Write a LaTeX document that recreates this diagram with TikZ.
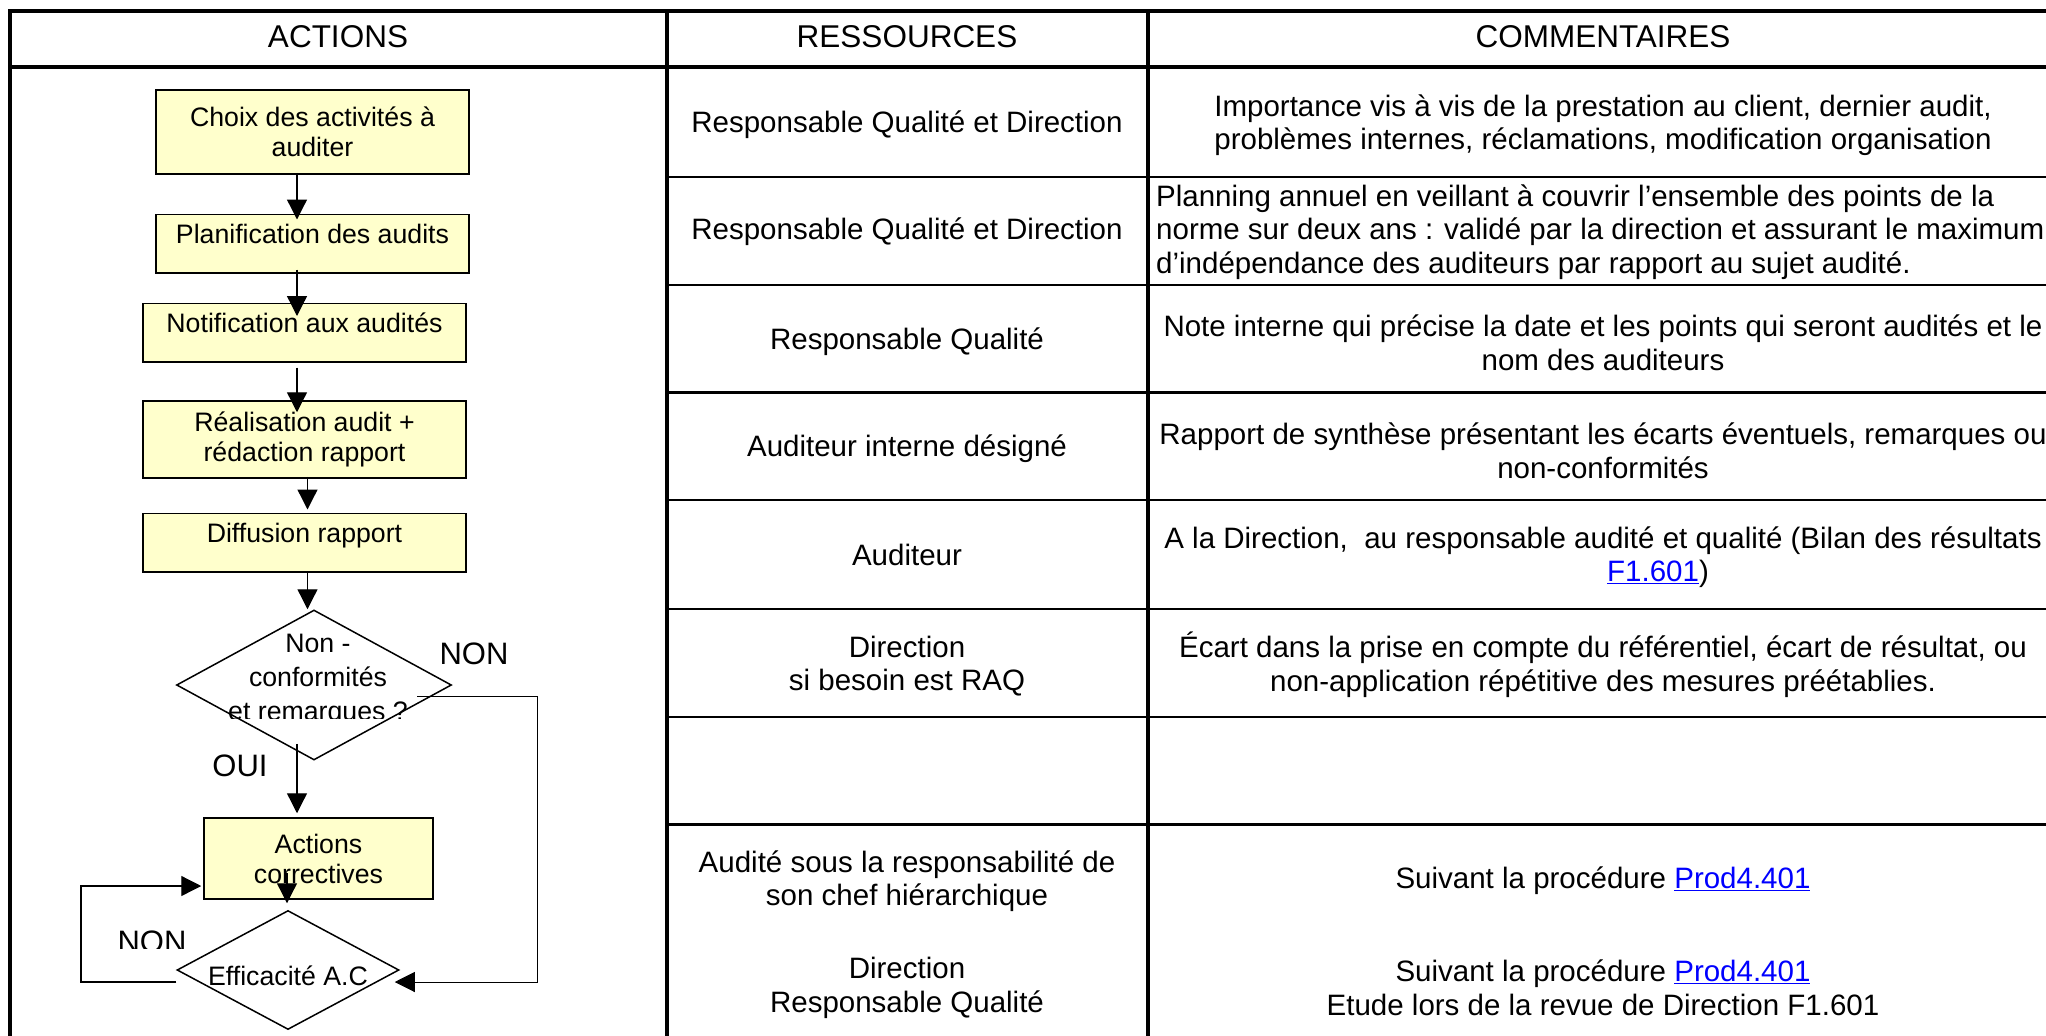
\documentclass[tikz,border=0pt]{standalone}
\usepackage{fontspec}
\setmainfont{Liberation Sans}
\usetikzlibrary{arrows.meta,shapes.geometric}

\definecolor{jaune}{RGB}{255,255,204}
\newcommand{\lien}[1]{\textcolor{blue}{\underline{#1}}}

\begin{document}
\begin{tikzpicture}[x=1pt, y=-1pt,
		etape/.style={draw, line width=1.5pt, fill=jaune, inner sep=0pt, align=center, font=\fontsize{26.7}{30}\selectfont},
		etapeun/.style={etape, text height=29pt, text depth=29.5pt},
		losange/.style={draw, diamond, line width=1.5pt, inner sep=0pt},
		texte/.style={inner sep=0pt, align=center, font=\fontsize{26.7}{34}\selectfont},
		fleche/.style={line width=1.3pt, -{Triangle[length=20pt, width=20pt]}},
		entete/.style={inner sep=0pt, font=\fontsize{31.5}{36}\selectfont},
		cellule/.style={inner sep=0pt, align=center, font=\fontsize{29.5}{33.5}\selectfont},
		etiquette/.style={inner sep=0pt, font=\fontsize{31}{34}\selectfont}]
		\useasboundingbox (0,0) rectangle (2046,1036);
		\fill[white] (0,0) rectangle (2046,1036);
		\clip (0,0) rectangle (2046,1036);
		
		%table frame
		\draw[line width=3.3pt] (10,1045) -- (10,11) -- (2058,11) -- (2058,1045);
		\draw[line width=3.3pt] (10,67) -- (2058,67);
		\foreach \x in {667, 1148}{
			\draw[line width=3.3pt] (\x,11) -- (\x,1045);
		}
		\foreach \y in {177, 285, 500, 609, 717}{
			\draw[line width=2pt] (667,\y) -- (2058,\y);
		}
		\foreach \y in {392, 824}{
			\draw[line width=3pt] (667,\y) -- (2058,\y);
		}
		
		%header
		\node[entete] (hact) at (338,37) {ACTIONS};
		\node[entete] (hres) at (907,37) {RESSOURCES};
		\node[entete] (hcom) at (1603,37) {COMMENTAIRES};
		
		%ressources
		\node[cellule] (res1) at (907,125) {Responsable Qualité et Direction};
		\node[cellule] (res2) at (907,232) {Responsable Qualité et Direction};
		\node[cellule] (res3) at (907,342) {Responsable Qualité};
		\node[cellule] (res4) at (907,449) {Auditeur interne désigné};
		\node[cellule] (res5) at (907,555) {Auditeur};
		\node[cellule] (res6) at (907,666) {Direction\\si besoin est RAQ};
		\node[cellule] (res7) at (907,881) {Audité sous la responsabilité de\\son chef hiérarchique};
		\node[cellule] (res8) at (907,988) {Direction\\Responsable Qualité};
		
		%commentaires
		\node[cellule] (com1) at (1603,125) {Importance vis à vis de la prestation au client, dernier audit,\\problèmes internes, réclamations, modification organisation};
		\node[cellule, align=left, anchor=west] (com2) at (1156,232) {Planning annuel en veillant à couvrir l’ensemble des points de la\\norme sur deux ans : validé par la direction et assurant le maximum\\d’indépendance des auditeurs par rapport au sujet audité.};
		\node[cellule] (com3) at (1603,343) {Note interne qui précise la date et les points qui seront audités et le\\nom des auditeurs};
		\node[cellule] (com4) at (1603,451) {Rapport de synthèse présentant les écarts éventuels, remarques ou\\non-conformités};
		\node[cellule] (com5) at (1603,557) {A la Direction,~ au responsable audité et qualité (Bilan des résultats\\\hspace*{110pt}\lien{F1.601})};
		\node[cellule] (com6) at (1603,665) {Écart dans la prise en compte du référentiel, écart de résultat, ou\\non-application répétitive des mesures préétablies.};
		\node[cellule] (com7) at (1603,881) {Suivant la procédure \lien{Prod4.401}};
		\node[cellule] (com8) at (1603,988) {Suivant la procédure \lien{Prod4.401}\\Etude lors de la revue de Direction F1.601};
		
		%flow chart
		\node[etape, minimum width=313pt, minimum height=84pt] (choix) at (312.5,132) {Choix des activités à\\auditer};
		\node[etapeun, minimum width=313pt] (planif) at (312.5,243.5) {Planification des audits};
		\node[etapeun, minimum width=323pt] (notif) at (304.5,332.5) {Notification aux audités};
		\node[etape, minimum width=323pt, minimum height=77pt] (realis) at (304.5,439.5) {Réalisation audit +\\rédaction rapport};
		\node[etapeun, minimum width=323pt] (diffus) at (304.5,542.5) {Diffusion rapport};
		\node[losange, minimum width=275pt, minimum height=150pt] (nc) at (314,685) {};
		\node[etape, minimum width=229pt, minimum height=81pt] (actions) at (318.5,858.5) {Actions\\correctives};
		\node[losange, minimum width=222pt, minimum height=119pt] (effic) at (288,970) {};
		
		\begin{scope}
			\clip (100,600) rectangle (560,718);
			\node[texte] (nctxt) at (318,680) {Non -\\conformités\\et remarques ?};
		\end{scope}
		\node[texte] (efftxt) at (288,976) {Efficacité A.C};
		
		\node[etiquette] (non1) at (474,654) {NON};
		\node[etiquette] (oui) at (240,766) {OUI};
		\begin{scope}
			\clip (100,900) rectangle (200,948);
			\node[etiquette] (non2) at (152,942) {NON};
		\end{scope}
		
		%arrows
		\coordinate (axeA) at (297,0);
		\coordinate (axeB) at (307.5,0);
		\coordinate (axeC) at (287,0);
		\coordinate (sortie) at (417,696);
		\coordinate (coude) at (537,982);
		\coordinate (gauche) at (81,886);
		
		\draw[fleche, shorten <=-2pt, shorten >=-6pt] (choix.south -| axeA) -- (planif.north -| axeA);
		\draw[fleche, shorten <=-4pt, shorten >=-13.5pt] (planif.south -| axeA) -- (notif.north -| axeA);
		\draw[fleche, shorten <=5pt, shorten >=-12pt] (notif.south -| axeA) -- (realis.north -| axeA);
		\draw[fleche, shorten <=-2pt, shorten >=3pt] (realis.south -| axeB) -- (diffus.north -| axeB);
		\draw[fleche] (diffus.south -| axeB) -- (nc.north -| axeB);
		\draw[fleche, shorten <=-17pt, shorten >=4pt] (nc.south -| axeA) -- (actions.north -| axeA);
		\draw[fleche, shorten <=14.5pt, shorten >=6.5pt] (actions.center -| axeC) -- (effic.north -| axeC);
		\draw[fleche, line width=1pt, shorten >=-5pt] (sortie) -| (coude) -- (effic.east |- coude);
		\draw[fleche, shorten >=2pt] (effic.west |- coude) -| (gauche) -- (actions.west |- gauche);
\end{tikzpicture}
\end{document}
